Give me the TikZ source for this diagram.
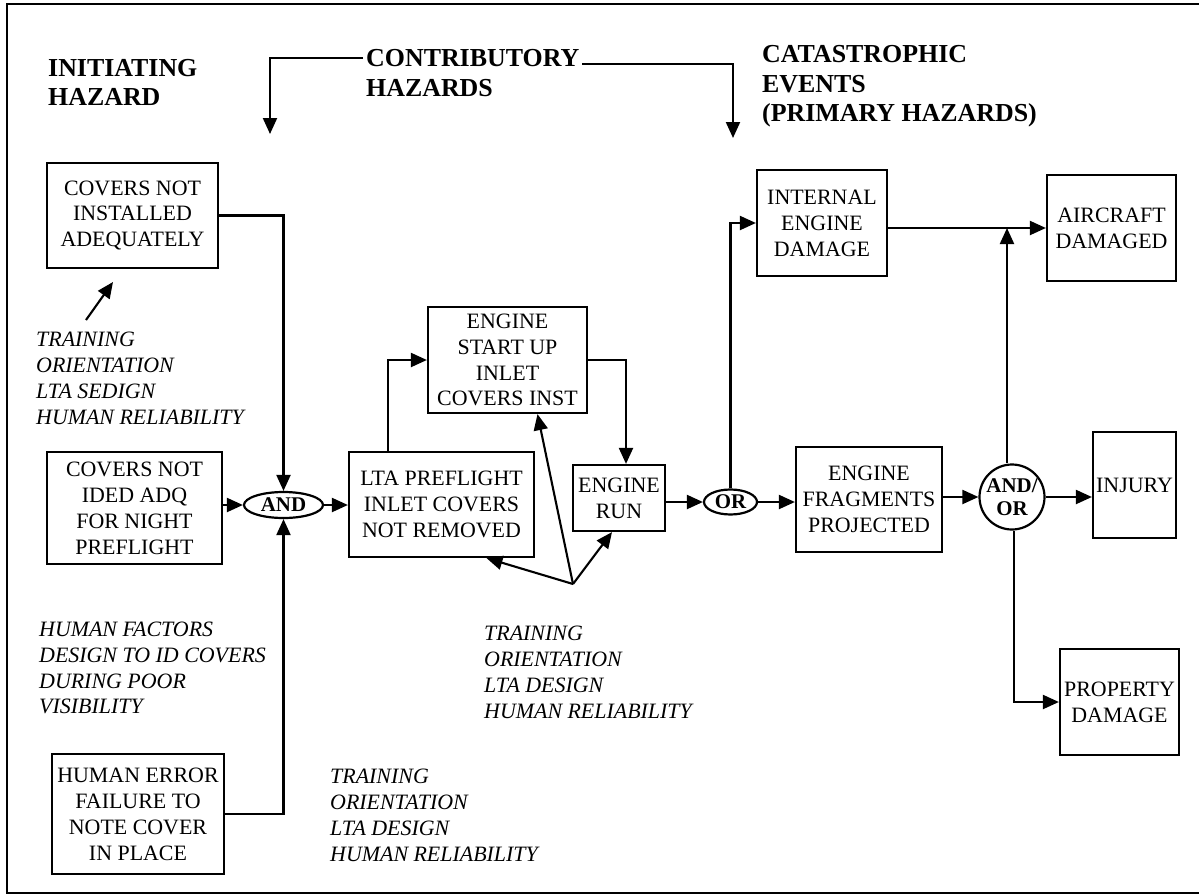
\documentclass[tikz,border=0pt]{standalone}
\usepackage{fontspec}
\setmainfont{Liberation Serif}
\usetikzlibrary{arrows.meta,shapes.geometric}
\begin{document}
\begin{tikzpicture}[x=1bp,y=-1bp,
  every node/.style={inner sep=0pt},
  hbox/.style={draw, line width=2.2bp, align=center, font=\fontsize{22}{26}\selectfont},
  gate/.style={draw, line width=2.2bp, ellipse, font=\fontsize{21}{23}\selectfont\bfseries},
  hdr/.style={align=left, inner xsep=3bp, anchor=west, font=\fontsize{26}{30}\selectfont\bfseries},
  note/.style={align=left, anchor=west, font=\fontsize{22}{26}\selectfont\itshape},
  arr/.style={line width=2.1bp, -{Triangle[length=16bp,width=14bp]}}]
\useasboundingbox (0,0) rectangle (1199,896);
\draw[line width=2.2bp] (1199.5,4) -- (7,4) -- (7,893) -- (1199.5,893);

% headers
\node[hdr] (ih) at (45,82.4) {INITIATING\\HAZARD};
\node[hdr] (ch) at (363,73.4) {CONTRIBUTORY\\HAZARDS};
\node[hdr] (cat) at (759,86.2) {CATASTROPHIC\\EVENTS\\(PRIMARY HAZARDS)};
\coordinate (lbc) at (270,58);
\coordinate (lbt) at (270,134);
\coordinate (rbc) at (733,64);
\coordinate (rbt) at (733,138);
\draw[arr] (ch.west |- lbc) -- (lbc) -- (lbt);
\draw[arr] (ch.east |- rbc) -- (rbc) -- (rbt);

% boxes
\node[hbox, minimum width=171bp, minimum height=105bp] (c1) at (132.5,215.5) {COVERS NOT\\INSTALLED\\ADEQUATELY};
\node[hbox, minimum width=175bp, minimum height=112bp] (c2) at (134.5,508) {COVERS NOT\\IDED ADQ\\FOR NIGHT\\PREFLIGHT};
\node[hbox, minimum width=172bp, minimum height=120bp] (c3) at (138,814) {HUMAN ERROR\\FAILURE TO\\NOTE COVER\\IN PLACE};
\node[hbox, minimum width=185bp, minimum height=105bp] (lta) at (441.5,504.5) {LTA PREFLIGHT\\INLET COVERS\\NOT REMOVED};
\node[hbox, minimum width=159bp, minimum height=106bp] (es) at (507.5,360) {ENGINE\\START UP\\INLET\\COVERS INST};
\node[hbox, minimum width=92bp, minimum height=66bp] (er) at (619,498) {ENGINE\\RUN};
\node[hbox, minimum width=130bp, minimum height=106bp] (ied) at (822,223) {INTERNAL\\ENGINE\\DAMAGE};
\node[hbox, minimum width=129bp, minimum height=106bp] (ad) at (1111.5,228) {AIRCRAFT\\DAMAGED};
\node[hbox, minimum width=146bp, minimum height=105bp] (efp) at (869,499.5) {ENGINE\\FRAGMENTS\\PROJECTED};
\node[hbox, minimum width=83bp, minimum height=106bp] (inj) at (1134.5,485) {INJURY};
\node[hbox, minimum width=119bp, minimum height=106bp] (pd) at (1119.5,702) {PROPERTY\\DAMAGE};

% gates
\node[gate, minimum width=79bp, minimum height=26bp] (and) at (283.5,505) {AND};
\node[gate, minimum width=53bp, minimum height=25bp] (or) at (730.5,502) {OR};
\node[draw, line width=2.2bp, circle, minimum size=65bp, align=center, font=\fontsize{21}{23}\selectfont\bfseries] (ao) at (1012,497) {AND/\\OR};

% connectors
\draw[arr] (c1.east) -| (and.north);
\draw[arr] (c2.east |- and.west) -- (and.west);
\draw[arr] (c3.east) -| (and.south);
\draw[arr] (and.east) -- (and.east -| lta.west);
\draw[arr] ([xshift=40bp]lta.north west) |- (es.west);
\draw[arr] (es.east) -| ([xshift=7bp]er.north);
\draw[arr] (er.east |- or.west) -- (or.west);
\draw[arr] (or.north) |- (ied.west);
\draw[arr] (or.east) -- (or.east -| efp.west);
\draw[arr] (efp.east |- ao.west) -- (ao.west);
\draw[arr] (ied.east |- ad.west) -- (ad.west);
\draw[arr] ([xshift=-5bp]ao.north) -- ([xshift=-5bp]ao.north |- ad.west);
\draw[arr] (ao.east) -- (ao.east -| inj.west);
\draw[arr] ([xshift=2bp]ao.south) |- (pd.west);

% notes
\node[note] (n1) at (36,378) {TRAINING\\ORIENTATION\\LTA SEDIGN\\HUMAN RELIABILITY};
\coordinate (n1a) at (86,320);
\coordinate (n1b) at (113,282);
\draw[arr] (n1a) -- (n1b);
\node[note] (n2) at (39,668) {HUMAN FACTORS\\DESIGN TO ID COVERS\\DURING POOR\\VISIBILITY};
\node[note] (n3) at (330,815) {TRAINING\\ORIENTATION\\LTA DESIGN\\HUMAN RELIABILITY};
\node[note] (n4) at (484,672) {TRAINING\\ORIENTATION\\LTA DESIGN\\HUMAN RELIABILITY};
\coordinate (p) at (573,584);
\draw[arr] (p) -- ([xshift=45bp]lta.south);
\draw[arr] (p) -- ([xshift=-7bp]er.south);
\draw[arr] (p) -- ([xshift=30bp]es.south);
\end{tikzpicture}
\end{document}
